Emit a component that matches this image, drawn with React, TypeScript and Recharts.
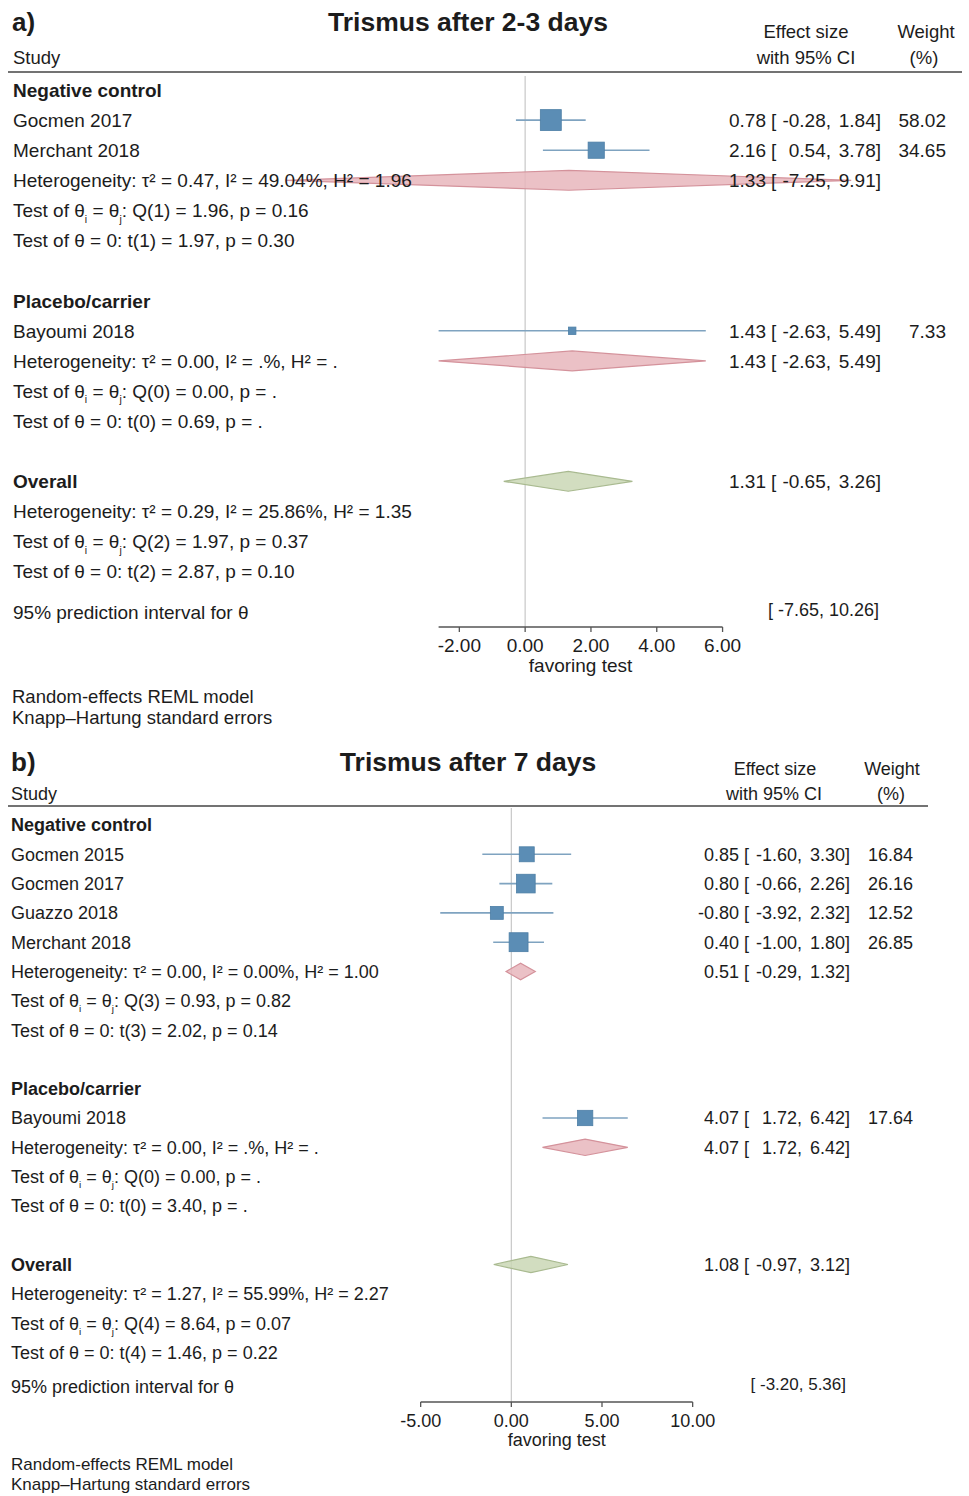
import React from "react";
import { ComposedChart, Scatter, XAxis, YAxis, ReferenceLine, ErrorBar } from "recharts";

// ---- panel a: trismus after 2-3 days ----
const aGroups = ["Negative control", "Placebo/carrier"];
const aStudies = ["Gocmen 2017", "Merchant 2018", "Bayoumi 2018"];
const aStudyGroup = [0, 0, 1];
const aEst = [0.78, 2.16, 1.43];
const aLow = [-0.28, 0.54, -2.63];
const aHigh = [1.84, 3.78, 5.49];
const aWeight = [58.02, 34.65, 7.33];
const aSubEst = [1.33, 1.43];
const aSubLow = [-7.25, -2.63];
const aSubHigh = [9.91, 5.49];
const aSubStats = [
  ["Heterogeneity: τ² = 0.47, I² = 49.04%, H² = 1.96", "Test of θ_i = θ_j: Q(1) = 1.96, p = 0.16", "Test of θ = 0: t(1) = 1.97, p = 0.30"],
  ["Heterogeneity: τ² = 0.00, I² = .%, H² = .", "Test of θ_i = θ_j: Q(0) = 0.00, p = .", "Test of θ = 0: t(0) = 0.69, p = ."],
];
const aOverall = [1.31, -0.65, 3.26];
const aOverallStats = ["Heterogeneity: τ² = 0.29, I² = 25.86%, H² = 1.35", "Test of θ_i = θ_j: Q(2) = 1.97, p = 0.37", "Test of θ = 0: t(2) = 2.87, p = 0.10"];
const aPrediction = [-7.65, 10.26];
const aTicks = [-2, 0, 2, 4, 6];
const aAxisSpan = [-2.63, 6];

// ---- panel b: trismus after 7 days ----
const bGroups = ["Negative control", "Placebo/carrier"];
const bStudies = ["Gocmen 2015", "Gocmen 2017", "Guazzo 2018", "Merchant 2018", "Bayoumi 2018"];
const bStudyGroup = [0, 0, 0, 0, 1];
const bEst = [0.85, 0.8, -0.8, 0.4, 4.07];
const bLow = [-1.6, -0.66, -3.92, -1.0, 1.72];
const bHigh = [3.3, 2.26, 2.32, 1.8, 6.42];
const bWeight = [16.84, 26.16, 12.52, 26.85, 17.64];
const bSubEst = [0.51, 4.07];
const bSubLow = [-0.29, 1.72];
const bSubHigh = [1.32, 6.42];
const bSubStats = [
  ["Heterogeneity: τ² = 0.00, I² = 0.00%, H² = 1.00", "Test of θ_i = θ_j: Q(3) = 0.93, p = 0.82", "Test of θ = 0: t(3) = 2.02, p = 0.14"],
  ["Heterogeneity: τ² = 0.00, I² = .%, H² = .", "Test of θ_i = θ_j: Q(0) = 0.00, p = .", "Test of θ = 0: t(0) = 3.40, p = ."],
];
const bOverall = [1.08, -0.97, 3.12];
const bOverallStats = ["Heterogeneity: τ² = 1.27, I² = 55.99%, H² = 2.27", "Test of θ_i = θ_j: Q(4) = 8.64, p = 0.07", "Test of θ = 0: t(4) = 1.46, p = 0.22"];
const bPrediction = [-3.2, 5.36];
const bTicks = [-5, 0, 5, 10];
const bAxisSpan = [-5, 10];

const FONT = '"Liberation Sans", Arial, Helvetica, sans-serif';
const INK = "#1c1c1c";
const SQUARE = "#5b8db5";
const CI_LINE = "#7fa3c0";
const SUB_FILL = "#e7b6bc";
const SUB_STROKE = "#d4929b";
const ALL_FILL = "#cad7b5";
const ALL_STROKE = "#a9ba90";

type Row = { pos: number; label: string; bold?: boolean; eff?: number[]; weight?: number; pred?: number[] };

function buildPanel(d: any, predGap: number, dh: number) {
  const rows: Row[] = [];
  const points: any[] = [];
  const diamonds: any[] = [];
  const diamond = (e: number[], r: number, overall: boolean) => ({
    overall,
    pts: [
      { x: e[1], y: r },
      { x: e[0], y: r - dh },
      { x: e[2], y: r },
      { x: e[0], y: r + dh },
    ],
  });
  let pos = 0;
  d.groups.forEach((g: string, gi: number) => {
    rows.push({ pos, label: g, bold: true });
    pos++;
    d.studies.forEach((s: string, i: number) => {
      if (d.studyGroup[i] !== gi) return;
      rows.push({ pos, label: s, eff: [d.est[i], d.low[i], d.high[i]], weight: d.weight[i] });
      points.push({ x: d.est[i], y: pos, err: [d.est[i] - d.low[i], d.high[i] - d.est[i]], w: d.weight[i] });
      pos++;
    });
    const sub = [d.subEst[gi], d.subLow[gi], d.subHigh[gi]];
    rows.push({ pos, label: d.subStats[gi][0], eff: sub });
    diamonds.push(diamond(sub, pos, false));
    pos++;
    rows.push({ pos, label: d.subStats[gi][1] });
    pos++;
    rows.push({ pos, label: d.subStats[gi][2] });
    pos++;
    pos++; // blank line
  });
  rows.push({ pos, label: "Overall", bold: true, eff: d.overall });
  diamonds.push(diamond(d.overall, pos, true));
  pos++;
  d.overallStats.forEach((s: string) => {
    rows.push({ pos, label: s });
    pos++;
  });
  rows.push({ pos: pos + predGap, label: "95% prediction interval for θ", pred: d.prediction });
  return { rows, points, diamonds };
}

const panelA = buildPanel(
  { groups: aGroups, studies: aStudies, studyGroup: aStudyGroup, est: aEst, low: aLow, high: aHigh, weight: aWeight, subEst: aSubEst, subLow: aSubLow, subHigh: aSubHigh, subStats: aSubStats, overall: aOverall, overallStats: aOverallStats, prediction: aPrediction },
  0.34,
  0.33
);
const panelB = buildPanel(
  { groups: bGroups, studies: bStudies, studyGroup: bStudyGroup, est: bEst, low: bLow, high: bHigh, weight: bWeight, subEst: bSubEst, subLow: bSubLow, subHigh: bSubHigh, subStats: bSubStats, overall: bOverall, overallStats: bOverallStats, prediction: bPrediction },
  0.18,
  0.28
);

const fmt = (v: number) => v.toFixed(2);

function Rich({ s, size }: { s: string; size: number }) {
  const parts = s.split(/_(\w)/);
  return (
    <>
      {parts.map((p, i) =>
        i % 2 === 1 ? (
          <tspan key={i} dy={size * 0.28} fontSize={size * 0.55} fill={INK}>{p}</tspan>
        ) : (
          <tspan key={i} dy={i > 0 ? -size * 0.28 : 0} fill={INK}>{p}</tspan>
        )
      )}
    </>
  );
}

function RowTick(props: any) {
  const { y, payload, rows, cfg } = props;
  const row: Row | undefined = rows.find((r: Row) => Math.abs(r.pos - payload.value) < 1e-6);
  if (!row) return <g />;
  const fs = cfg.fontSize;
  const by = y + fs * 0.36;
  const common = { fontFamily: FONT, fontSize: fs, fill: INK };
  return (
    <g>
      <text x={cfg.leftX} y={by} {...common} fontWeight={row.bold ? "bold" : "normal"}>
        <Rich s={row.label} size={fs} />
      </text>
      {row.eff && (
        <>
          <text x={cfg.estEnd} y={by} textAnchor="end" {...common}>{fmt(row.eff[0])}</text>
          <text x={cfg.open} y={by} {...common}>[</text>
          <text x={cfg.loEnd} y={by} textAnchor="end" {...common}>{fmt(row.eff[1])},</text>
          <text x={cfg.hiEnd} y={by} textAnchor="end" {...common}>{fmt(row.eff[2])}]</text>
        </>
      )}
      {row.weight !== undefined && (
        <text x={cfg.weightEnd} y={by} textAnchor="end" {...common}>{fmt(row.weight)}</text>
      )}
      {row.pred && (
        <text x={cfg.predEnd} y={by - 3} textAnchor="end" {...common} fontSize={fs - 1}>
          {`[ ${fmt(row.pred[0])}, ${fmt(row.pred[1])}]`}
        </text>
      )}
    </g>
  );
}

function DiamondPoly(props: any) {
  const { points, fillColor, strokeColor } = props;
  if (!points || !points.length) return <g />;
  return (
    <polygon
      points={points.map((p: any) => `${p.x},${p.y}`).join(" ")}
      fill={fillColor}
      fillOpacity={0.85}
      stroke={strokeColor}
      strokeWidth={1.2}
    />
  );
}

function ForestPanel({ panel, cfg, ticks, span }: any) {
  const { rows, points, diamonds } = panel;
  const yMax = cfg.yDomain[1];
  return (
    <ComposedChart width={969} height={cfg.height} margin={cfg.margin}>
      <XAxis
        type="number"
        dataKey="x"
        domain={cfg.xDomain}
        allowDataOverflow
        ticks={ticks}
        interval={0}
        axisLine={false}
        tickLine={{ stroke: "#555", strokeWidth: 1.3 }}
        tickSize={5}
        tickMargin={7}
        height={30}
        tick={{ fill: INK, fontSize: cfg.fontSize, fontFamily: FONT }}
        tickFormatter={(v: number) => v.toFixed(2)}
      />
      <YAxis
        type="number"
        dataKey="y"
        reversed
        domain={cfg.yDomain}
        allowDataOverflow
        ticks={rows.map((r: Row) => r.pos)}
        interval={0}
        width={1}
        axisLine={false}
        tickLine={false}
        tick={(p: any) => <RowTick {...p} rows={rows} cfg={cfg} />}
      />
      <ReferenceLine x={0} stroke="#c8c8c8" strokeWidth={1.2} ifOverflow="visible" />
      <ReferenceLine
        segment={[{ x: span[0], y: yMax }, { x: span[1], y: yMax }]}
        stroke="#555"
        strokeWidth={1.3}
        ifOverflow="visible"
        label={{ value: "favoring test", position: "bottom", offset: cfg.favOffset, fill: INK, fontSize: cfg.fontSize, fontFamily: FONT }}
      />
      {diamonds.map((dm: any, i: number) => (
        <Scatter
          key={"d" + i}
          data={dm.pts}
          isAnimationActive={false}
          shape={() => <g />}
          line={
            <DiamondPoly
              fillColor={dm.overall ? ALL_FILL : SUB_FILL}
              strokeColor={dm.overall ? ALL_STROKE : SUB_STROKE}
            />
          }
        />
      ))}
      <Scatter
        data={points}
        isAnimationActive={false}
        shape={(p: any) => {
          const s = cfg.sqK * Math.sqrt(p.payload.w);
          return <rect x={p.cx - s / 2} y={p.cy - s / 2} width={s} height={s} fill={SQUARE} stroke="#4d7fa6" strokeWidth={0.8} />;
        }}
      >
        <ErrorBar dataKey="err" direction="x" width={0} stroke={CI_LINE} strokeWidth={1.6} />
      </Scatter>
    </ComposedChart>
  );
}

const cfgA = {
  height: 745,
  margin: { top: 76, right: 49, left: 228, bottom: 88 },
  xDomain: [-9, 12],
  yDomain: [-0.465, 17.84],
  fontSize: 19,
  leftX: 13,
  estEnd: 766,
  open: 771,
  loEnd: 831,
  hiEnd: 881,
  weightEnd: 946,
  predEnd: 879,
  sqK: 2.75,
  favOffset: 32,
};

const cfgB = {
  height: 751,
  margin: { top: 63, right: 95, left: 329, bottom: 64 },
  xDomain: [-10, 20],
  yDomain: [-0.58, 19.693],
  fontSize: 18,
  leftX: 11,
  estEnd: 739,
  open: 744,
  loEnd: 802,
  hiEnd: 850,
  weightEnd: 913,
  predEnd: 846,
  sqK: 3.65,
  favOffset: 31,
};

function Headers() {
  const t = { fontFamily: FONT, fill: INK };
  return (
    <svg width={969} height={1496} style={{ position: "absolute", left: 0, top: 0, pointerEvents: "none" }}>
      {/* panel a */}
      <text x={12} y={31} fontSize={26} fontWeight="bold" {...t}>a)</text>
      <text x={468} y={31} fontSize={26.5} fontWeight="bold" textAnchor="middle" {...t}>Trismus after 2-3 days</text>
      <text x={806} y={38} fontSize={18.5} textAnchor="middle" {...t}>Effect size</text>
      <text x={926} y={38} fontSize={18.5} textAnchor="middle" {...t}>Weight</text>
      <text x={13} y={64} fontSize={18.5} {...t}>Study</text>
      <text x={806} y={64} fontSize={18.5} textAnchor="middle" {...t}>with 95% CI</text>
      <text x={924} y={64} fontSize={18.5} textAnchor="middle" {...t}>(%)</text>
      <line x1={8} x2={962} y1={72} y2={72} stroke="#444" strokeWidth={1.5} />
      <text x={12} y={703} fontSize={18.5} {...t}>Random-effects REML model</text>
      <text x={12} y={724} fontSize={18.5} {...t}>Knapp–Hartung standard errors</text>
      {/* panel b */}
      <text x={11} y={771} fontSize={26} fontWeight="bold" {...t}>b)</text>
      <text x={468} y={771} fontSize={26.5} fontWeight="bold" textAnchor="middle" {...t}>Trismus after 7 days</text>
      <text x={775} y={775} fontSize={18} textAnchor="middle" {...t}>Effect size</text>
      <text x={892} y={775} fontSize={18} textAnchor="middle" {...t}>Weight</text>
      <text x={11} y={800} fontSize={18} {...t}>Study</text>
      <text x={774} y={800} fontSize={18} textAnchor="middle" {...t}>with 95% CI</text>
      <text x={891} y={800} fontSize={18} textAnchor="middle" {...t}>(%)</text>
      <line x1={8} x2={928} y1={806} y2={806} stroke="#444" strokeWidth={1.5} />
      <text x={11} y={1470} fontSize={17} {...t}>Random-effects REML model</text>
      <text x={11} y={1490} fontSize={17} {...t}>Knapp–Hartung standard errors</text>
    </svg>
  );
}

export default function App() {
  return (
    <div style={{ position: "absolute", left: 0, top: 0, width: 969, height: 1496, background: "#fff", overflow: "hidden" }}>
      <div style={{ position: "absolute", left: 0, top: 0 }}>
        <ForestPanel panel={panelA} cfg={cfgA} ticks={aTicks} span={aAxisSpan} />
      </div>
      <div style={{ position: "absolute", left: 0, top: 745 }}>
        <ForestPanel panel={panelB} cfg={cfgB} ticks={bTicks} span={bAxisSpan} />
      </div>
      <Headers />
    </div>
  );
}
